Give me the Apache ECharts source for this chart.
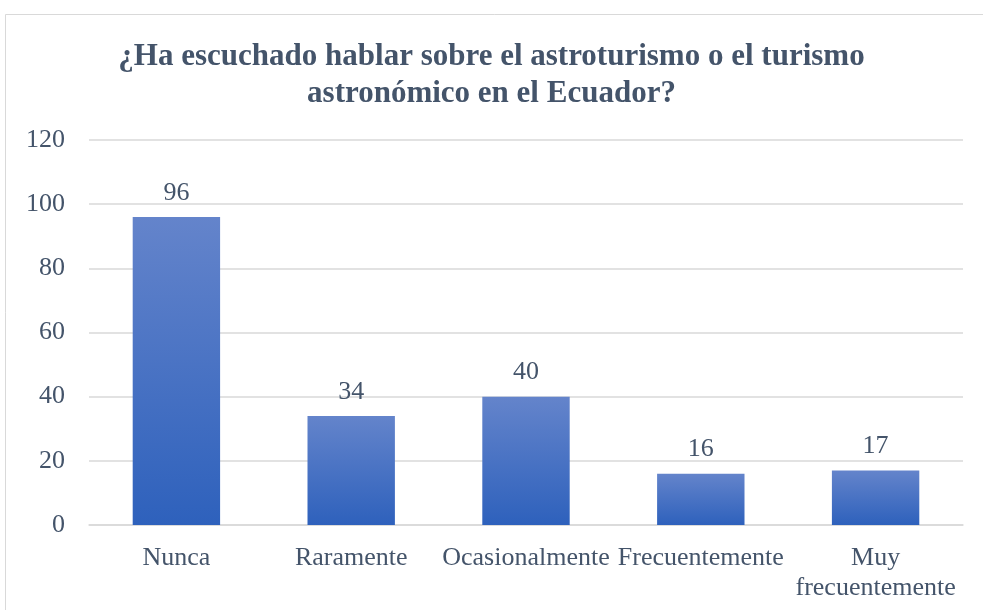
<!DOCTYPE html>
<html>
<head>
<meta charset="utf-8">
<script src="https://cdn.jsdelivr.net/npm/echarts@6/dist/echarts.min.js"></script>
<style>
  html, body { margin: 0; padding: 0; background: #fff; }
  #chart { width: 983px; height: 610px; }
</style>
</head>
<body>
<div id="chart"></div>
<script>
var categories = ['Nunca', 'Raramente', 'Ocasionalmente', 'Frecuentemente', 'Muy\nfrecuentemente'];
var values = [96, 34, 40, 16, 17];
var titleText = '¿Ha escuchado hablar sobre el astroturismo o el turismo\nastronómico en el Ecuador?';

var textColor = '#44546A';
var serif = '"Liberation Serif", "Times New Roman", serif';

var chart = echarts.init(document.getElementById('chart'));
var option = {
    backgroundColor: '#fff',
    animation: false,
    title: {
        text: titleText,
        left: 'center',
        top: 33,
        textStyle: {
            fontFamily: serif,
            fontSize: 31,
            fontWeight: 'bold',
            color: textColor,
            lineHeight: 37
        }
    },
    graphic: [{
        type: 'rect',
        shape: { x: 5.5, y: 14.5, width: 1000, height: 700 },
        style: { fill: 'none', stroke: '#D9D9D9', lineWidth: 1 },
        silent: true
    }],
    grid: {
        left: 89,
        right: 20,
        top: 140,
        bottom: 85
    },
    xAxis: {
        type: 'category',
        data: categories,
        axisLine: { show: true, lineStyle: { color: '#D9D9D9', width: 1.5 } },
        axisTick: { show: false },
        axisLabel: {
            interval: 0,
            margin: 18,
            fontFamily: serif,
            fontSize: 26,
            color: textColor,
            lineHeight: 30
        }
    },
    yAxis: {
        type: 'value',
        min: 0,
        max: 120,
        interval: 20,
        axisLine: { show: false },
        axisTick: { show: false },
        splitLine: { lineStyle: { color: '#D9D9D9', width: 1.5 } },
        axisLabel: {
            margin: 24,
            fontFamily: serif,
            fontSize: 26,
            color: textColor
        }
    },
    series: [{
        type: 'bar',
        data: values,
        barWidth: '50%',
        itemStyle: {
            color: new echarts.graphic.LinearGradient(0, 0, 0, 1, [
                { offset: 0, color: '#6484CB' },
                { offset: 1, color: '#2E61BC' }
            ])
        },
        label: {
            show: true,
            position: 'top',
            distance: 11,
            fontFamily: serif,
            fontSize: 26,
            color: textColor
        }
    }]
};
chart.setOption(option);
</script>
</body>
</html>
